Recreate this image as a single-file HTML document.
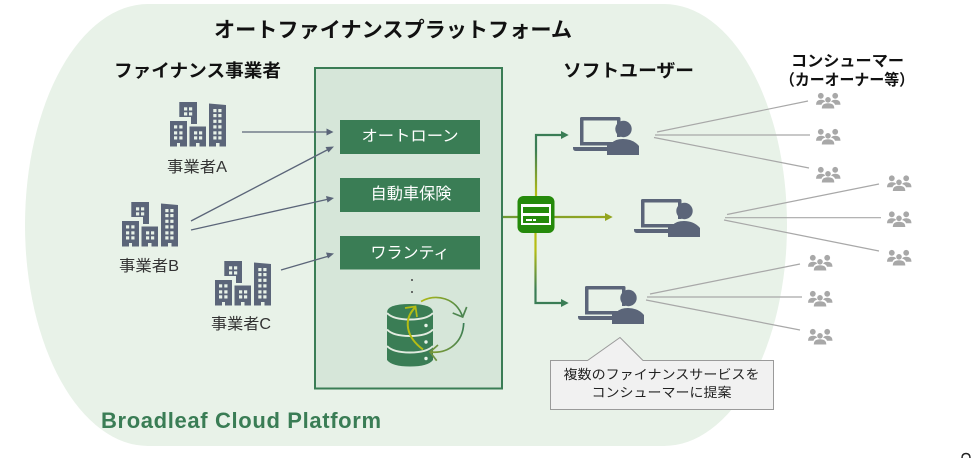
<!DOCTYPE html>
<html lang="ja">
<head>
<meta charset="utf-8">
<style>
html,body{margin:0;padding:0;background:#fff;width:974px;height:458px;overflow:hidden}
svg{display:block}
text{font-family:"Liberation Sans","Noto Sans CJK JP",sans-serif}
</style>
</head>
<body>
<svg width="974" height="458" viewBox="0 0 974 458" xmlns="http://www.w3.org/2000/svg">
<defs>
<linearGradient id="gv1" gradientUnits="userSpaceOnUse" x1="0" y1="150" x2="0" y2="195"><stop offset="0" stop-color="#3a7d55"/><stop offset="1" stop-color="#b5bd14"/></linearGradient>
<linearGradient id="gv2" gradientUnits="userSpaceOnUse" x1="0" y1="250" x2="0" y2="290"><stop offset="0" stop-color="#b5bd14"/><stop offset="1" stop-color="#3a7d55"/></linearGradient>
<linearGradient id="gh" gradientUnits="userSpaceOnUse" x1="502" y1="0" x2="612" y2="0"><stop offset="0" stop-color="#6f9a35"/><stop offset="1" stop-color="#9aa81c"/></linearGradient>
<linearGradient id="arcA" gradientUnits="userSpaceOnUse" x1="420" y1="297" x2="466" y2="316"><stop offset="0" stop-color="#b5bd14"/><stop offset="1" stop-color="#3a7d55"/></linearGradient>
<linearGradient id="arcB" gradientUnits="userSpaceOnUse" x1="464" y1="325" x2="430" y2="352"><stop offset="0" stop-color="#3a7d55"/><stop offset="1" stop-color="#7f9c35"/></linearGradient>

<g id="bld">
  <path d="M9.300 0H27V22H21V15H9.300Z" fill="#5b6579"/>
  <path d="M0 19H17V44.500H10V41H7V44.500H0Z" fill="#5b6579"/>
  <path d="M19.500 24.500H36V44.500H29.500V41H26V44.500H19.500Z" fill="#5b6579"/>
  <path d="M39 1.500L56 3V44.500H49.500V41H46V44.500H39Z" fill="#5b6579"/>
  <g fill="#e8f2e8">
    <rect x="14" y="5.300" width="3.200" height="3.200"/><rect x="19" y="5.300" width="3.200" height="3.200"/><rect x="14" y="10.300" width="3.200" height="3.200"/><rect x="19" y="10.300" width="3.200" height="3.200"/>
    <rect x="4" y="23.300" width="3.200" height="3.200"/><rect x="9.300" y="23.300" width="3.200" height="3.200"/><rect x="4" y="29.300" width="3.200" height="3.200"/><rect x="9.300" y="29.300" width="3.200" height="3.200"/><rect x="4" y="34.300" width="3.200" height="3.200"/><rect x="9.300" y="34.300" width="3.200" height="3.200"/>
    <rect x="24" y="29.300" width="3.200" height="3.200"/><rect x="29" y="29.300" width="3.200" height="3.200"/><rect x="24" y="34.300" width="3.200" height="3.200"/><rect x="29" y="34.300" width="3.200" height="3.200"/>
    <rect x="43.300" y="7" width="3.200" height="3.200"/><rect x="48.300" y="7" width="3.200" height="3.200"/><rect x="43.300" y="12" width="3.200" height="3.200"/><rect x="48.300" y="12" width="3.200" height="3.200"/><rect x="43.300" y="17.700" width="3.200" height="3.200"/><rect x="48.300" y="17.700" width="3.200" height="3.200"/><rect x="43.300" y="23.300" width="3.200" height="3.200"/><rect x="48.300" y="23.300" width="3.200" height="3.200"/><rect x="43.300" y="29.300" width="3.200" height="3.200"/><rect x="48.300" y="29.300" width="3.200" height="3.200"/><rect x="43.300" y="34.300" width="3.200" height="3.200"/><rect x="48.300" y="34.300" width="3.200" height="3.200"/>
  </g>
</g>

<g id="pc">
  <path d="M7 1.500a1.500 1.500 0 0 1 1.500-1.500H46a1.500 1.500 0 0 1 1.500 1.500V20H44V3.500H10.500V25H40V28.500H7Z" fill="#5b6579"/>
  <path d="M0 30H35V34H3Q0 34 0 31Z" fill="#5b6579"/>
  <circle cx="50.500" cy="12" r="8.200" fill="#5b6579"/>
  <path d="M34 38V28.500Q36 27.500 39 26Q42 22 50 22Q60 22 66 29V38Z" fill="#5b6579"/>
</g>

<g id="ppl" fill="#a8a8a8">
  <circle cx="4.800" cy="2.800" r="2.900"/><circle cx="19.200" cy="2.800" r="2.900"/><circle cx="12" cy="6.800" r="2.800"/>
  <path d="M0 11.800Q0 6.800 5 6.800Q8 6.800 9.300 8.500Q6 9.500 5.500 11.800Z"/>
  <path d="M24.500 11.800Q24.500 6.800 19.500 6.800Q16.500 6.800 15 8.500Q18.500 9.500 19 11.800Z"/>
  <path d="M5.800 15.500Q5.800 10.300 12 10.300Q18.300 10.300 18.300 15.500Z"/>
</g>
</defs>

<rect x="25" y="4" width="762" height="442" rx="123" ry="221" fill="#e8f2e8"/>

<rect x="315" y="68" width="187" height="320.500" fill="#d6e6d9" stroke="#3a7d55" stroke-width="2"/>
<rect x="340" y="120" width="140" height="34" fill="#3a7d55"/>
<rect x="340" y="178" width="140" height="34" fill="#3a7d55"/>
<rect x="340" y="236" width="140" height="33.500" fill="#3a7d55"/>

<text x="214" y="37" font-size="21" font-weight="700" fill="#111" textLength="358" lengthAdjust="spacingAndGlyphs">オートファイナンスプラットフォーム</text>
<text x="114" y="77" font-size="18" font-weight="700" fill="#111" textLength="167" lengthAdjust="spacingAndGlyphs">ファイナンス事業者</text>
<text x="563" y="77" font-size="18" font-weight="700" fill="#111" textLength="131" lengthAdjust="spacingAndGlyphs">ソフトユーザー</text>
<text x="791" y="66" font-size="15.500" font-weight="700" fill="#111" textLength="113" lengthAdjust="spacingAndGlyphs">コンシューマー</text>
<text x="780" y="85" font-size="15.500" font-weight="700" fill="#111" textLength="134" lengthAdjust="spacingAndGlyphs">（カーオーナー等）</text>

<text x="410" y="141" font-size="15.500" fill="#fff" text-anchor="middle" textLength="97" lengthAdjust="spacingAndGlyphs">オートローン</text>
<text x="411" y="199" font-size="16" fill="#fff" text-anchor="middle" textLength="81" lengthAdjust="spacingAndGlyphs">自動車保険</text>
<text x="410" y="258" font-size="16" fill="#fff" text-anchor="middle" textLength="79" lengthAdjust="spacingAndGlyphs">ワランティ</text>

<use href="#bld" x="170" y="102"/>
<use href="#bld" x="122" y="202"/>
<use href="#bld" x="215" y="261"/>
<text x="167" y="172" font-size="15.500" fill="#333" textLength="60" lengthAdjust="spacingAndGlyphs">事業者A</text>
<text x="119" y="271" font-size="15.500" fill="#333" textLength="60" lengthAdjust="spacingAndGlyphs">事業者B</text>
<text x="211" y="329" font-size="15.500" fill="#333" textLength="60" lengthAdjust="spacingAndGlyphs">事業者C</text>

<g stroke="#5b6579" stroke-width="1.300" fill="none">
  <line x1="242" y1="132" x2="328" y2="132"/>
  <line x1="191" y1="221" x2="329" y2="149"/>
  <line x1="191" y1="230" x2="329" y2="199"/>
  <line x1="281" y1="270" x2="329" y2="256"/>
</g>
<g fill="#5b6579">
  <path d="M333.500 132L326.500 128.500V135.500Z"/>
  <path d="M334 146.500L325.500 147L328.500 152.500Z"/>
  <path d="M334 198L326 196L327.500 202.500Z"/>
  <path d="M334 253.500L326 252.500L328 258.500Z"/>
</g>

<circle cx="412" cy="280" r="1" fill="#444"/>
<circle cx="412" cy="292" r="1" fill="#444"/>

<!-- database -->
<path d="M387 312.500Q387 304 410 304Q433 304 433 312.500V360Q428 366.500 410 366.500Q392 366.500 387 360Z" fill="#3a7d55"/>
<g fill="none" stroke="#e2ebe0" stroke-width="2">
  <path d="M387 313Q393 319.500 410 319.500Q427 319.500 433 313"/>
  <path d="M387 329.500Q393 336 410 336Q427 336 433 329.500"/>
  <path d="M387 346Q393 352.500 410 352.500Q427 352.500 433 346"/>
</g>
<circle cx="426" cy="325.500" r="1.700" fill="#e8f2e8"/>
<circle cx="426" cy="342" r="1.700" fill="#e8f2e8"/>
<circle cx="426" cy="358.500" r="1.700" fill="#e8f2e8"/>

<g fill="none" stroke-width="1.700">
  <path d="M421 301.500C436 293 456 298 462.500 316.500" stroke="url(#arcA)"/>
  <path d="M452.700 313L462.700 317L466.700 307" stroke="#4f8650"/>
  <path d="M463.700 323C463 342 449 354 430 352" stroke="url(#arcB)"/>
  <path d="M438 345L430 352L436.700 360.700" stroke="#6d9240"/>
  <path d="M423 349.500C406 337 403 320 415 307.500" stroke="#b5bd14" stroke-width="2"/>
  <path d="M405 308L415.500 306.500L417 317" stroke="#b5bd14"/>
</g>

<!-- connectors -->
<line x1="503" y1="217" x2="606" y2="217" stroke="url(#gh)" stroke-width="2.200"/>
<path d="M612.700 217L605 213V221Z" fill="#93a51f"/>
<path d="M536 205V135H562" fill="none" stroke="url(#gv1)" stroke-width="2.200"/>
<path d="M568.700 135L561 131V139Z" fill="#3a7d55"/>
<path d="M535.500 232V303H562" fill="none" stroke="url(#gv2)" stroke-width="2.200"/>
<path d="M568.700 303L561 299V307Z" fill="#3a7d55"/>

<rect x="517.500" y="196" width="37" height="37" rx="6" fill="#258a0b"/>
<rect x="521" y="204" width="30" height="21" fill="#fff"/>
<rect x="523" y="207" width="26" height="6" fill="#258a0b"/>
<rect x="523" y="216" width="26" height="7" fill="#258a0b"/>
<rect x="526" y="219" width="6" height="2" fill="#fff"/>
<rect x="533" y="219" width="3" height="2" fill="#fff"/>

<use href="#pc" x="573" y="117"/>
<use href="#pc" x="634" y="199"/>
<use href="#pc" x="578" y="286"/>

<g stroke="#a8a8a8" stroke-width="1.200" fill="none">
  <line x1="657" y1="132" x2="808" y2="101"/>
  <line x1="655" y1="135" x2="810" y2="135"/>
  <line x1="654" y1="137.500" x2="809" y2="168"/>
  <line x1="727" y1="214.500" x2="879" y2="184"/>
  <line x1="725" y1="217.700" x2="881" y2="217.700"/>
  <line x1="724" y1="220" x2="879" y2="251"/>
  <line x1="650" y1="294" x2="800" y2="264"/>
  <line x1="647" y1="297" x2="802" y2="297"/>
  <line x1="646" y1="300" x2="800" y2="330"/>
</g>

<use href="#ppl" x="816" y="93"/>
<use href="#ppl" x="816" y="129"/>
<use href="#ppl" x="816" y="167"/>
<use href="#ppl" x="887" y="175.500"/>
<use href="#ppl" x="887" y="211.500"/>
<use href="#ppl" x="887" y="250"/>
<use href="#ppl" x="808" y="255"/>
<use href="#ppl" x="808" y="291"/>
<use href="#ppl" x="808" y="329"/>

<path d="M550.500 360.500H587.500L620 337.500L643 360.500H773.500V409.500H550.500Z" fill="#f1f1f1" stroke="#9a9a9a" stroke-width="1"/>
<text x="661.500" y="379" font-size="13" fill="#222" text-anchor="middle" textLength="196" lengthAdjust="spacingAndGlyphs">複数のファイナンスサービスを</text>
<text x="661.500" y="397" font-size="13" fill="#222" text-anchor="middle" textLength="140" lengthAdjust="spacingAndGlyphs">コンシューマーに提案</text>

<text x="101" y="428" font-size="22" font-weight="700" fill="#3a7d55" textLength="280" lengthAdjust="spacing">Broadleaf Cloud Platform</text>

<path d="M962 458Q962 453.500 966 453.500Q970 453.500 970 458" fill="none" stroke="#222" stroke-width="1.500"/>
</svg>
</body>
</html>
